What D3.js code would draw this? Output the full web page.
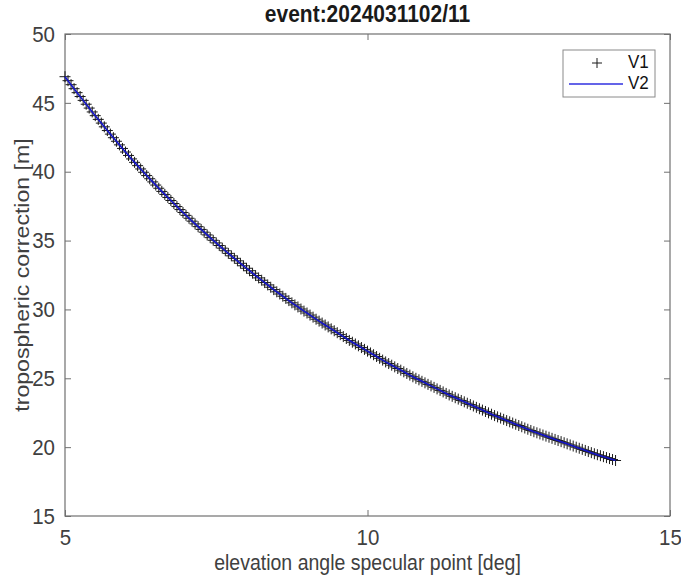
<!DOCTYPE html>
<html lang="en">
<head>
<meta charset="UTF-8">
<title>event:2024031102/11</title>
<script src="https://cdn.jsdelivr.net/npm/d3@7"></script>
<style>
    body { margin: 0; background: #fff; }
    text { font-family: "Liberation Sans", Arial, sans-serif; }
</style>
</head>
<body>
<script>

    // elevation angle of specular point [deg]
    var elevation = [
        5.00, 5.05, 5.10, 5.15, 5.20, 5.25, 5.30, 5.35, 5.40, 5.45,
        5.50, 5.55, 5.60, 5.65, 5.70, 5.75, 5.80, 5.85, 5.90, 5.95,
        6.00, 6.05, 6.10, 6.15, 6.20, 6.25, 6.30, 6.35, 6.40, 6.45,
        6.50, 6.55, 6.60, 6.65, 6.70, 6.75, 6.80, 6.85, 6.90, 6.95,
        7.00, 7.05, 7.10, 7.15, 7.20, 7.25, 7.30, 7.35, 7.40, 7.45,
        7.50, 7.55, 7.60, 7.65, 7.70, 7.75, 7.80, 7.85, 7.90, 7.95,
        8.00, 8.05, 8.10, 8.15, 8.20, 8.25, 8.30, 8.35, 8.40, 8.45,
        8.50, 8.55, 8.60, 8.65, 8.70, 8.75, 8.80, 8.85, 8.90, 8.95,
        9.00, 9.05, 9.10, 9.15, 9.20, 9.25, 9.30, 9.35, 9.40, 9.45,
        9.50, 9.55, 9.60, 9.65, 9.70, 9.75, 9.80, 9.85, 9.90, 9.95,
        10.00, 10.05, 10.10, 10.15, 10.20, 10.25, 10.30, 10.35, 10.40, 10.45,
        10.50, 10.55, 10.60, 10.65, 10.70, 10.75, 10.80, 10.85, 10.90, 10.95,
        11.00, 11.05, 11.10, 11.15, 11.20, 11.25, 11.30, 11.35, 11.40, 11.45,
        11.50, 11.55, 11.60, 11.65, 11.70, 11.75, 11.80, 11.85, 11.90, 11.95,
        12.00, 12.05, 12.10, 12.15, 12.20, 12.25, 12.30, 12.35, 12.40, 12.45,
        12.50, 12.55, 12.60, 12.65, 12.70, 12.75, 12.80, 12.85, 12.90, 12.95,
        13.00, 13.05, 13.10, 13.15, 13.20, 13.25, 13.30, 13.35, 13.40, 13.45,
        13.50, 13.55, 13.60, 13.65, 13.70, 13.75, 13.80, 13.85, 13.90, 13.95,
        14.00, 14.05, 14.10
    ];

    // tropospheric correction [m], V1 (markers) and V2 (line) overlap
    var tropoV1 = [
        46.90, 46.61, 46.32, 46.03, 45.74, 45.46, 45.18, 44.90, 44.62, 44.34,
        44.07, 43.80, 43.53, 43.26, 42.99, 42.73, 42.47, 42.21, 41.95, 41.69,
        41.43, 41.18, 40.93, 40.68, 40.44, 40.20, 39.96, 39.72, 39.49, 39.26,
        39.03, 38.80, 38.57, 38.35, 38.13, 37.91, 37.69, 37.47, 37.25, 37.04,
        36.83, 36.62, 36.41, 36.21, 36.01, 35.81, 35.61, 35.41, 35.21, 35.02,
        34.83, 34.64, 34.45, 34.26, 34.07, 33.89, 33.71, 33.53, 33.35, 33.17,
        32.99, 32.81, 32.63, 32.46, 32.29, 32.12, 31.95, 31.78, 31.61, 31.44,
        31.28, 31.12, 30.96, 30.80, 30.64, 30.48, 30.33, 30.18, 30.03, 29.88,
        29.74, 29.59, 29.44, 29.29, 29.15, 29.01, 28.87, 28.73, 28.59, 28.45,
        28.31, 28.17, 28.03, 27.89, 27.75, 27.62, 27.49, 27.36, 27.23, 27.10,
        26.97, 26.84, 26.71, 26.58, 26.45, 26.32, 26.19, 26.07, 25.95, 25.83,
        25.71, 25.59, 25.47, 25.35, 25.23, 25.11, 25.00, 24.89, 24.78, 24.67,
        24.56, 24.45, 24.34, 24.23, 24.12, 24.01, 23.90, 23.79, 23.69, 23.59,
        23.49, 23.39, 23.29, 23.19, 23.09, 22.99, 22.89, 22.79, 22.69, 22.59,
        22.49, 22.39, 22.29, 22.20, 22.11, 22.02, 21.93, 21.84, 21.75, 21.66,
        21.57, 21.48, 21.39, 21.30, 21.21, 21.12, 21.04, 20.96, 20.88, 20.80,
        20.72, 20.64, 20.56, 20.48, 20.40, 20.32, 20.24, 20.16, 20.08, 20.00,
        19.92, 19.84, 19.76, 19.68, 19.60, 19.52, 19.45, 19.38, 19.31, 19.24,
        19.17, 19.10, 19.03
    ];
    var tropoV2 = tropoV1.slice();

    var xTicks = [5, 10, 15];
    var yTicks = [15, 20, 25, 30, 35, 40, 45, 50];
    var seriesNames = ["V1", "V2"];

    var width = 681, height = 575;
    var margin = {top: 34, right: 11, bottom: 59, left: 65};

    // the picture is a bit taller than wide, so text is stretched vertically
    var stretch = 1.1;

    var svg = d3.select("body").append("svg")
        .attr("width", width)
        .attr("height", height);

    var xScale = d3.scaleLinear()
        .domain([5, 15])
        .range([margin.left, width - margin.right]);
    var yScale = d3.scaleLinear()
        .domain([15, 50])
        .range([height - margin.bottom, margin.top]);

    var axisColor = "#707070";
    var textColor = "#404040";
    var tickLen = 6;

    // plot box
    svg.append("rect")
        .attr("x", xScale(5))
        .attr("y", yScale(50))
        .attr("width", xScale(15) - xScale(5))
        .attr("height", yScale(15) - yScale(50))
        .attr("fill", "#fff")
        .attr("stroke", axisColor)
        .attr("stroke-width", 1.2);

    // inward ticks on all four sides
    var axes = svg.append("g");
    function styleAxis(g) {
        g.select(".domain").remove();
        g.selectAll(".tick line").attr("stroke", axisColor);
        g.selectAll(".tick text")
            .attr("fill", textColor)
            .attr("font-size", "20.5px")
            .attr("font-family", "Liberation Sans, Arial, sans-serif");
    }
    axes.append("g")
        .attr("transform", "translate(0," + yScale(15) + ")")
        .call(d3.axisBottom(xScale).tickValues(xTicks).tickSizeInner(-tickLen).tickSizeOuter(0).tickPadding(0).tickFormat(d3.format("d")))
        .call(styleAxis)
        .selectAll(".tick text")
        .attr("dy", null)
        .attr("y", 0)
        .attr("transform", "translate(0,29) scale(1," + stretch + ")");
    axes.append("g")
        .attr("transform", "translate(0," + yScale(50) + ")")
        .call(d3.axisTop(xScale).tickValues(xTicks).tickSizeInner(-tickLen).tickSizeOuter(0).tickFormat(""))
        .call(styleAxis);
    axes.append("g")
        .attr("transform", "translate(" + xScale(5) + ",0)")
        .call(d3.axisLeft(yScale).tickValues(yTicks).tickSizeInner(-tickLen).tickSizeOuter(0).tickPadding(0).tickFormat(d3.format("d")))
        .call(styleAxis)
        .selectAll(".tick text")
        .attr("x", 0)
        .attr("transform", "translate(-10,0) scale(1," + stretch + ")");
    axes.append("g")
        .attr("transform", "translate(" + xScale(15) + ",0)")
        .call(d3.axisRight(yScale).tickValues(yTicks).tickSizeInner(-tickLen).tickSizeOuter(0).tickFormat(""))
        .call(styleAxis);

    // V1 markers
    var mk = 5.5;
    svg.append("g")
        .selectAll("path")
        .data(d3.zip(elevation, tropoV1))
        .join("path")
        .attr("d", function (d) {
            var x = xScale(d[0]), y = yScale(d[1]);
            return "M" + (x - mk) + "," + y + "H" + (x + mk) + "M" + x + "," + (y - mk) + "V" + (y + mk);
        })
        .attr("fill", "none")
        .attr("stroke", "#1a1a1a")
        .attr("stroke-width", 1);

    // V2 line
    var line = d3.line()
        .x(function (d) { return xScale(d[0]); })
        .y(function (d) { return yScale(d[1]); });
    svg.append("path")
        .datum(d3.zip(elevation, tropoV2))
        .attr("fill", "none")
        .attr("stroke", "#1414c8")
        .attr("stroke-width", 1.6)
        .attr("d", line);

    // title and labels
    svg.append("text")
        .attr("transform", "translate(" + xScale(10) + ",22) scale(1," + stretch + ")")
        .attr("text-anchor", "middle")
        .attr("font-size", "21px")
        .attr("font-weight", "bold")
        .attr("fill", "#1a1a1a")
        .text("event:2024031102/11");

    svg.append("text")
        .attr("transform", "translate(" + xScale(10) + ",570) scale(1," + stretch + ")")
        .attr("text-anchor", "middle")
        .attr("font-size", "19.5px")
        .attr("fill", textColor)
        .text("elevation angle specular point [deg]");

    svg.append("text")
        .attr("transform", "translate(23," + yScale(32.5) + ") rotate(-90) scale(" + stretch + ",1)")
        .attr("text-anchor", "middle")
        .attr("dominant-baseline", "middle")
        .attr("font-size", "21px")
        .attr("fill", textColor)
        .text("tropospheric correction [m]");

    // legend
    var legend = svg.append("g").attr("transform", "translate(563,50)");
    legend.append("rect")
        .attr("width", 92)
        .attr("height", 47)
        .attr("fill", "#fff")
        .attr("stroke", "#8a8a8a")
        .attr("stroke-width", 1);
    legend.append("path")
        .attr("d", "M29,13H39M34,8V18")
        .attr("stroke", "#1a1a1a")
        .attr("fill", "none");
    legend.append("line")
        .attr("x1", 6).attr("x2", 60)
        .attr("y1", 34).attr("y2", 34)
        .attr("stroke", "#3030e0")
        .attr("stroke-width", 1.5);
    legend.selectAll("text.lab")
        .data(seriesNames)
        .join("text")
        .attr("class", "lab")
        .attr("transform", function (d, i) { return "translate(65," + (13 + i * 21) + ") scale(1," + stretch + ")"; })
        .attr("dominant-baseline", "middle")
        .attr("font-size", "17px")
        .attr("fill", "#111")
        .text(function (d) { return d; });

</script>
</body>
</html>
